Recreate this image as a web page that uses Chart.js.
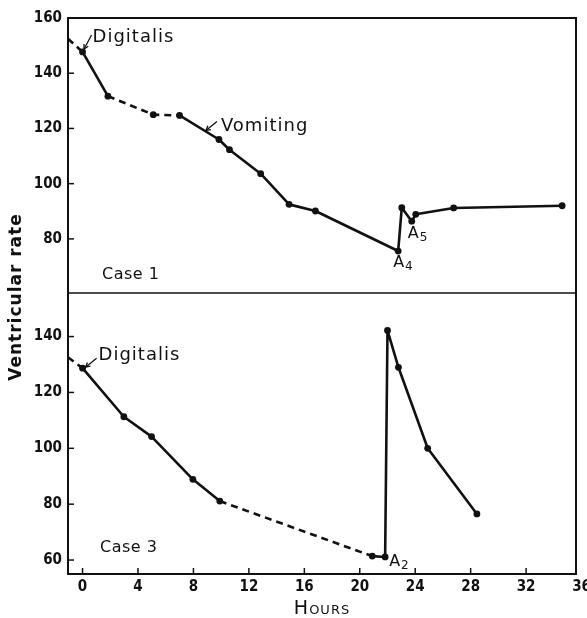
<!DOCTYPE html>
<html><head><meta charset="utf-8">
<script src="https://cdn.jsdelivr.net/npm/chart.js@4/dist/chart.umd.min.js"></script>
<style>html,body{margin:0;padding:0;background:#fff}#wrap{position:relative;width:587px;height:618px}</style>
</head><body><div id="wrap"><canvas id="c" width="587" height="618"></canvas></div>
<script>
// ---- data ----
const hoursTicks = [0, 4, 8, 12, 16, 20, 24, 28, 32, 36];
const case1Ticks = [80, 100, 120, 140, 160];
const case3Ticks = [60, 80, 100, 120, 140];

const case1Hours = [-1.05, 0, 1.83, 5.1, 7.0, 9.84, 10.6, 12.85, 14.9, 16.8, 22.77, 23.03, 23.75, 24.04, 26.77, 34.6];
const case1Rate  = [152.5, 147.7, 131.7, 125, 124.7, 116, 112.3, 103.6, 92.5, 90.1, 75.6, 91.3, 86.4, 88.9, 91.2, 92];
const case1DashedFrom = [0, 2, 3];

const case3Hours = [-1.05, 0, 2.98, 4.98, 7.96, 9.9, 20.9, 21.83, 22.0, 22.79, 24.9, 28.45];
const case3Rate  = [132.6, 128.7, 111.3, 104.2, 88.9, 81.1, 61.4, 61.1, 142.2, 129, 100, 76.5];
const case3DashedFrom = [0, 5];

const titles = { x: 'Hours', y: 'Ventricular rate', case1: 'Case 1', case3: 'Case 3' };
const notes = { digitalis: 'Digitalis', vomiting: 'Vomiting', a4: ['A', '4'], a5: ['A', '5'], a2: ['A', '2'] };

const FONT = "'DejaVu Sans', 'Liberation Sans', sans-serif";
const TICKFONT = "'Liberation Sans Narrow', 'DejaVu Sans Condensed', 'Liberation Sans', sans-serif";

function pts(xs, ys) { return xs.map((x, i) => ({ x: x, y: ys[i] })); }

function ds(xs, ys, dashed, axis) {
  return {
    data: pts(xs, ys),
    yAxisID: axis,
    borderColor: '#111',
    backgroundColor: '#111',
    borderWidth: 2.6,
    borderJoinStyle: 'round',
    pointRadius: c => c.dataIndex === 0 ? 0 : 3.4,
    pointBackgroundColor: '#111',
    pointBorderWidth: 0,
    tension: 0,
    segment: { borderDash: c => dashed.includes(c.p0DataIndex) ? [7, 5] : undefined }
  };
}

function arrow(ctx, x1, y1, x2, y2) {
  ctx.beginPath(); ctx.moveTo(x1, y1); ctx.lineTo(x2, y2); ctx.stroke();
  const a = Math.atan2(y2 - y1, x2 - x1), L = 5;
  ctx.beginPath();
  ctx.moveTo(x2 - L * Math.cos(a - 0.5), y2 - L * Math.sin(a - 0.5));
  ctx.lineTo(x2, y2);
  ctx.lineTo(x2 - L * Math.cos(a + 0.5), y2 - L * Math.sin(a + 0.5));
  ctx.stroke();
}

function subLabel(ctx, parts, x, y) {
  ctx.font = "16px " + FONT;
  ctx.fillText(parts[0], x, y);
  const w = ctx.measureText(parts[0]).width;
  ctx.font = "12px " + FONT;
  ctx.fillText(parts[1], x + w + 1, y + 3);
}

const decor = {
  id: 'decor',
  afterDraw(chart) {
    const { ctx, chartArea: a, scales } = chart;
    const yt = scales.yTop, yb = scales.yBot, sx = scales.x;
    ctx.save();
    ctx.strokeStyle = '#111'; ctx.fillStyle = '#111';
    ctx.lineWidth = 2;
    ctx.strokeRect(a.left, a.top, a.right - a.left, a.bottom - a.top);
    ctx.lineWidth = 1.5;
    ctx.beginPath(); ctx.moveTo(a.left, yb.top); ctx.lineTo(a.right, yb.top); ctx.stroke();
    // inward tick marks
    [yt, yb].forEach(s => s.ticks.forEach(t => {
      const y = s.getPixelForValue(t.value);
      ctx.beginPath(); ctx.moveTo(a.left, y); ctx.lineTo(a.left + 6, y); ctx.stroke();
    }));
    sx.ticks.forEach(t => {
      const x = sx.getPixelForValue(t.value);
      if (x > a.right) return;
      ctx.beginPath(); ctx.moveTo(x, a.bottom); ctx.lineTo(x, a.bottom - 6); ctx.stroke();
    });
    // axis titles
    ctx.save();
    ctx.translate(17, 297);
    ctx.rotate(-Math.PI / 2);
    ctx.textAlign = 'center'; ctx.textBaseline = 'middle';
    ctx.font = "bold 17px " + FONT;
    ctx.letterSpacing = '1px';
    ctx.fillText(titles.y, 0, 0);
    ctx.restore();
    ctx.save();
    ctx.textAlign = 'center'; ctx.textBaseline = 'alphabetic';
    ctx.font = "19px " + FONT;
    ctx.fontVariantCaps = 'small-caps';
    ctx.letterSpacing = '1px';
    ctx.fillText(titles.x, (a.left + a.right) / 2, 614);
    ctx.restore();
    // annotations
    ctx.textAlign = 'left'; ctx.textBaseline = 'alphabetic';
    ctx.lineWidth = 1.3;
    ctx.letterSpacing = '1px';
    const p1 = i => [sx.getPixelForValue(case1Hours[i]), yt.getPixelForValue(case1Rate[i])];
    const p3 = i => [sx.getPixelForValue(case3Hours[i]), yb.getPixelForValue(case3Rate[i])];
    ctx.font = "18px " + FONT;
    let [px, py] = p1(1);
    ctx.fillText(notes.digitalis, px + 10, py - 10);
    arrow(ctx, px + 9, py - 17, px + 1.5, py - 3);
    [px, py] = p1(5);
    ctx.font = "18px " + FONT;
    ctx.fillText(notes.vomiting, px + 2, py - 8);
    arrow(ctx, px - 2, py - 18, px - 13, py - 9);
    [px, py] = p3(1);
    ctx.font = "18px " + FONT;
    ctx.fillText(notes.digitalis, px + 16, py - 8);
    arrow(ctx, px + 14, py - 10, px + 3, py - 1);
    ctx.letterSpacing = '0px';
    [px, py] = p1(10); subLabel(ctx, notes.a4, px - 5, py + 16);
    [px, py] = p1(12); subLabel(ctx, notes.a5, px - 4, py + 17);
    [px, py] = p3(7); subLabel(ctx, notes.a2, px + 4, py + 9);
    ctx.letterSpacing = '0.5px';
    ctx.font = "16px " + FONT;
    ctx.fillText(titles.case1, a.left + 34, yt.bottom - 14);
    ctx.fillText(titles.case3, a.left + 32, a.bottom - 22);
    ctx.restore();
  }
};

const tickFont = { family: TICKFONT, size: 15, weight: 'bold' };

new Chart(document.getElementById('c'), {
  type: 'line',
  data: {
    datasets: [
      ds(case1Hours, case1Rate, case1DashedFrom, 'yTop'),
      ds(case3Hours, case3Rate, case3DashedFrom, 'yBot')
    ]
  },
  options: {
    responsive: false,
    animation: false,
    devicePixelRatio: 1,
    layout: { padding: { top: 18, right: 11, left: 0, bottom: 0 } },
    plugins: { legend: { display: false }, tooltip: { enabled: false } },
    scales: {
      x: {
        type: 'linear', min: -1.05, max: 35.6,
        grid: { display: false, drawTicks: false }, border: { display: false },
        afterBuildTicks: s => { s.ticks = hoursTicks.map(v => ({ value: v })); },
        afterFit: s => { s.height = 44; s.paddingLeft = 0; s.paddingRight = 0; },
        ticks: { autoSkip: false, maxRotation: 0, padding: 4, color: '#111', font: tickFont },
        title: { display: false, text: titles.x }
      },
      yBot: {
        type: 'linear', position: 'left', stack: 'rate', stackWeight: 281,
        min: 55, max: 155.6,
        grid: { display: false, drawTicks: false }, border: { display: false },
        afterBuildTicks: s => { s.ticks = case3Ticks.map(v => ({ value: v })); },
        afterFit: s => { s.width = 68; },
        ticks: { padding: 6, color: '#111', font: tickFont }
      },
      yTop: {
        type: 'linear', position: 'left', stack: 'rate', stackWeight: 275,
        min: 60.4, max: 160,
        grid: { display: false, drawTicks: false }, border: { display: false },
        afterBuildTicks: s => { s.ticks = case1Ticks.map(v => ({ value: v })); },
        afterFit: s => { s.width = 68; },
        ticks: { padding: 6, color: '#111', font: tickFont }
      }
    }
  },
  plugins: [decor]
});
</script>
</body></html>
